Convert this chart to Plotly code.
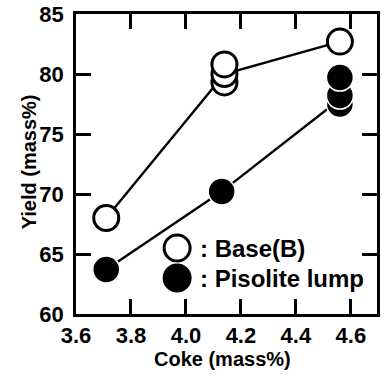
import plotly.graph_objects as go

# Data
base_x = [3.71, 4.14, 4.14, 4.14, 4.56]
base_y = [68.0, 79.3, 80.0, 80.8, 82.7]
base_line_x = [3.71, 4.14, 4.56]
base_line_y = [68.0, 80.0, 82.7]

pis_x = [3.71, 4.13, 4.56, 4.56, 4.56]
pis_y = [63.7, 70.2, 77.5, 78.2, 79.7]
pis_line_x = [3.71, 4.13, 4.56]
pis_line_y = [63.7, 70.2, 77.9]

x_ticks = [3.6, 3.8, 4.0, 4.2, 4.4, 4.6]
y_ticks = [60, 65, 70, 75, 80, 85]

FONT = "Liberation Sans, Arial, Helvetica, sans-serif"

fig = go.Figure()
fig.add_trace(go.Scatter(x=base_line_x, y=base_line_y, mode="lines",
                         line=dict(color="black", width=2.4), showlegend=False, hoverinfo="skip"))
fig.add_trace(go.Scatter(x=pis_line_x, y=pis_line_y, mode="lines",
                         line=dict(color="black", width=2.4), showlegend=False, hoverinfo="skip"))
fig.add_trace(go.Scatter(x=base_x, y=base_y, mode="markers", name="Base(B)",
                         marker=dict(size=25, color="white", line=dict(color="black", width=3)),
                         showlegend=False))
fig.add_trace(go.Scatter(x=pis_x, y=pis_y, mode="markers", name="Pisolite lump",
                         marker=dict(size=27, color="black", line=dict(color="white", width=1.5)),
                         showlegend=False))

axis_common = dict(showline=True, linecolor="black", linewidth=2.8, mirror="ticks",
                   ticks="inside", ticklen=15, tickwidth=2.8, tickcolor="black",
                   showgrid=False, zeroline=False,
                   tickfont=dict(family=FONT, size=22, color="black", weight="bold"))

fig.update_xaxes(range=[3.6, 4.695], tickvals=x_ticks,
                 ticktext=[f"{v:.1f}" for v in x_ticks], ticklabelstandoff=0, **axis_common)
fig.update_yaxes(range=[60, 85], tickvals=y_ticks,
                 ticktext=[str(v) for v in y_ticks], ticklabelstandoff=5, **axis_common)

# legend keys drawn as shapes
leg = [(0.22, "white", "black", ": Base(B)"), (0.12, "black", "black", ": Pisolite lump")]
for yy, fill, lc, txt in leg:
    fig.add_shape(type="circle", xref="paper", yref="paper", xsizemode="pixel", ysizemode="pixel",
                  xanchor=0.336, yanchor=yy, x0=-13, x1=13, y0=-13, y1=13,
                  fillcolor=fill, line=dict(color=lc, width=3))
    fig.add_annotation(xref="paper", yref="paper", x=0.405, y=yy, xanchor="left", yanchor="middle",
                       text=txt, showarrow=False,
                       font=dict(family=FONT, size=24, color="black", weight="bold"))

fig.add_annotation(xref="paper", yref="paper", x=0.488, y=-0.15, xanchor="center", yanchor="middle",
                   text="Coke (mass%)", showarrow=False,
                   font=dict(family=FONT, size=20, color="black", weight="bold"))
fig.add_annotation(xref="paper", yref="paper", x=-0.158, y=0.507, xanchor="center", yanchor="middle",
                   text="Yield (mass%)", textangle=-90, showarrow=False,
                   font=dict(family=FONT, size=20, color="black", weight="bold"))

fig.update_layout(width=382, height=376, margin=dict(l=76, r=2, t=14, b=62),
                  paper_bgcolor="white", plot_bgcolor="white", showlegend=False)

fig.write_html("out.html")
